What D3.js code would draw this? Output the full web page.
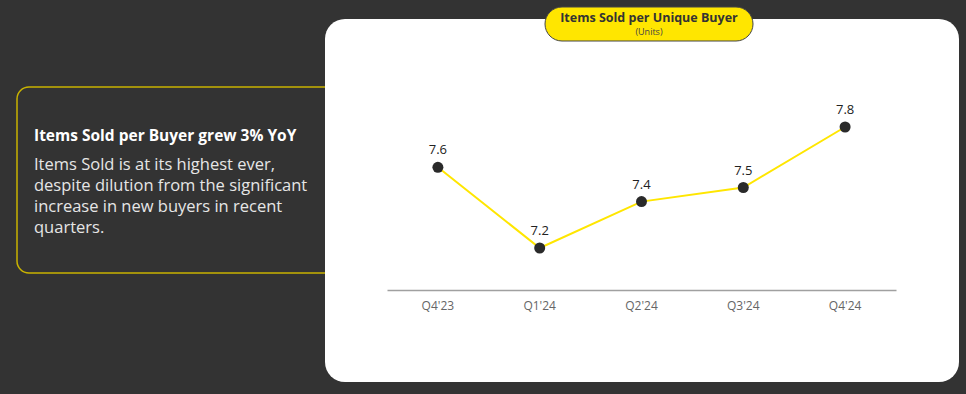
<!DOCTYPE html>
<html>
<head>
<meta charset="utf-8">
<script src="https://cdn.jsdelivr.net/npm/d3@7"></script>
<style>
  html, body { margin: 0; padding: 0; background: #333333; }
  svg { display: block; font-family: "Open Sans", Lato, sans-serif; }
</style>
</head>
<body>
<div id="chart"></div>
<script>
// chart data
var quarters = ["Q4'23", "Q1'24", "Q2'24", "Q3'24", "Q4'24"];
var itemsPerBuyer = [7.6, 7.2, 7.43, 7.5, 7.8];

var chartTitle = "Items Sold per Unique Buyer";
var chartUnits = "(Units)";
var calloutTitle = "Items Sold per Buyer grew 3% YoY";
var calloutLines = [
  "Items Sold is at its highest ever,",
  "despite dilution from the significant",
  "increase in new buyers in recent",
  "quarters."
];

var svgWidth = 966;
var svgHeight = 394;

var svg = d3.select("#chart")
  .append("svg")
  .attr("width", svgWidth)
  .attr("height", svgHeight);

svg.append("rect")
  .attr("width", svgWidth)
  .attr("height", svgHeight)
  .attr("fill", "#333333");

// callout box on the left (right side is hidden under the panel)
svg.append("rect")
  .attr("x", 17)
  .attr("y", 87)
  .attr("width", 360)
  .attr("height", 186)
  .attr("rx", 12)
  .attr("fill", "none")
  .attr("stroke", "#c9b300")
  .attr("stroke-width", 1.5);

svg.append("text")
  .attr("x", 34)
  .attr("y", 141)
  .attr("fill", "#ffffff")
  .style("font-size", "15.5px")
  .style("font-weight", "bold")
  .text(calloutTitle);

svg.append("g")
  .selectAll("text")
  .data(calloutLines)
  .enter()
  .append("text")
  .attr("x", 34)
  .attr("y", (d, i) => 170 + i * 21)
  .attr("fill", "#e6e6e6")
  .style("font-size", "16.5px")
  .text((d) => d);

// white chart panel
svg.append("rect")
  .attr("x", 325)
  .attr("y", 19)
  .attr("width", 634)
  .attr("height", 363)
  .attr("rx", 20)
  .attr("fill", "#ffffff");

// title pill
svg.append("rect")
  .attr("x", 545)
  .attr("y", 7)
  .attr("width", 208)
  .attr("height", 34)
  .attr("rx", 17)
  .attr("fill", "#ffe600")
  .attr("stroke", "#444444")
  .attr("stroke-width", 1);

svg.append("text")
  .attr("x", 649)
  .attr("y", 22)
  .attr("text-anchor", "middle")
  .attr("fill", "#333333")
  .style("font-size", "12.5px")
  .style("font-weight", "bold")
  .text(chartTitle);

svg.append("text")
  .attr("x", 649)
  .attr("y", 35)
  .attr("text-anchor", "middle")
  .attr("fill", "#444444")
  .style("font-size", "9px")
  .text(chartUnits);

// scales
var xScale = d3.scaleBand()
  .domain(quarters)
  .range([387, 896]);

var yScale = d3.scaleLinear()
  .domain([7.2, 7.8])
  .range([248, 127]);

var xAxis = d3.axisBottom(xScale).tickSize(0).tickPadding(11);

var axisGroup = svg.append("g")
  .attr("transform", "translate(0, 290)")
  .call(xAxis);

axisGroup.select(".domain")
  .attr("stroke", "#a0a0a0")
  .attr("stroke-width", 1.5);

axisGroup.selectAll("text")
  .attr("fill", "#666666")
  .style("font-family", "'Open Sans', Lato, sans-serif")
  .style("font-size", "12px");

var series = quarters.map((q, i) => ({ q: q, v: itemsPerBuyer[i] }));

var line = d3.line()
  .x((d) => xScale(d.q) + xScale.bandwidth() / 2)
  .y((d) => yScale(d.v));

svg.append("path")
  .datum(series)
  .attr("d", line)
  .attr("fill", "none")
  .attr("stroke", "#ffe600")
  .attr("stroke-width", 2);

svg.append("g")
  .selectAll("circle")
  .data(series)
  .enter()
  .append("circle")
  .attr("cx", (d) => xScale(d.q) + xScale.bandwidth() / 2)
  .attr("cy", (d) => yScale(d.v))
  .attr("r", 5.5)
  .attr("fill", "#2a2a2a");

svg.append("g")
  .selectAll("text")
  .data(series)
  .enter()
  .append("text")
  .attr("x", (d) => xScale(d.q) + xScale.bandwidth() / 2)
  .attr("y", (d) => yScale(d.v) - 13)
  .attr("text-anchor", "middle")
  .attr("fill", "#222222")
  .style("font-size", "13px")
  .text((d) => d3.format(".1f")(d.v));
</script>
</body>
</html>
